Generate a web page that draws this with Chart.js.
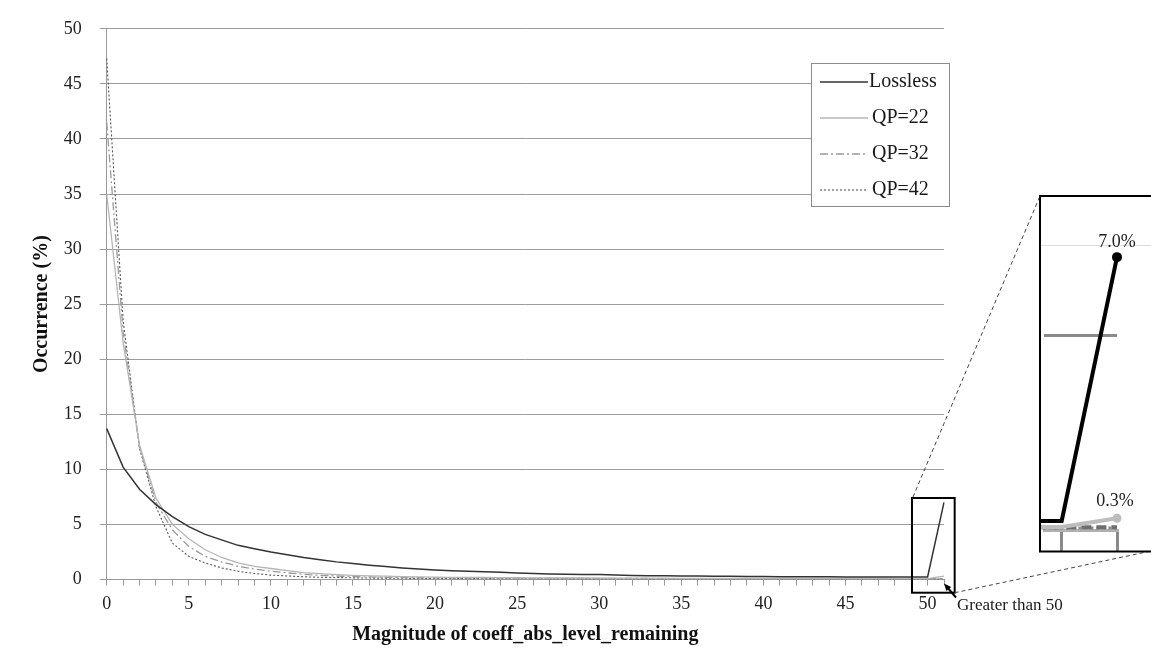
<!DOCTYPE html>
<html><head><meta charset="utf-8">
<script src="https://cdn.jsdelivr.net/npm/chart.js@4.4.1/dist/chart.umd.min.js"></script>
<style>
html,body{margin:0;padding:0;background:#fff;width:1151px;height:651px;overflow:hidden;position:relative}
#main{position:absolute;left:0;top:0}
#inset{position:absolute;left:1039px;top:195px}
</style></head><body>
<canvas id="main" width="1151" height="651"></canvas>
<canvas id="inset" width="112" height="358"></canvas>
<script>
// ---------- DATA ----------
const categories = ['0','1','2','3','4','5','6','7','8','9','10','11','12','13','14','15','16','17','18','19','20','21','22','23','24','25','26','27','28','29','30','31','32','33','34','35','36','37','38','39','40','41','42','43','44','45','46','47','48','49','50','Greater than 50'];
const lossless = [13.7,10.2,8.2,6.8,5.7,4.8,4.1,3.6,3.1,2.8, 2.5,2.25,2.0,1.8,1.6,1.45,1.3,1.17,1.05,0.95, 0.87,0.8,0.75,0.7,0.66,0.6,0.54,0.5,0.48,0.46, 0.45,0.41,0.37,0.35,0.33,0.32,0.31,0.3,0.29,0.28, 0.27,0.26,0.25,0.24,0.24,0.23,0.23,0.23,0.23,0.23, 0.23,7.0];
const qp22 = [35.0,21.5,12.2,7.4,5.0,3.7,2.7,2.0,1.5,1.2, 1.0,0.8,0.63,0.53,0.45,0.38,0.33,0.3,0.27,0.24, 0.21,0.2,0.19,0.18,0.17,0.16,0.15,0.15,0.14,0.14, 0.13,0.13,0.12,0.12,0.12,0.11,0.11,0.11,0.1,0.1, 0.1,0.1,0.1,0.09,0.09,0.09,0.09,0.09,0.08,0.08, 0.08,0.3];
const qp32 = [41.5,22.5,12.0,7.0,4.5,3.0,2.1,1.6,1.2,0.95, 0.75,0.6,0.47,0.38,0.32,0.27,0.23,0.2,0.18,0.16, 0.15,0.14,0.13,0.12,0.12,0.11,0.11,0.1,0.1,0.1, 0.09,0.09,0.09,0.09,0.08,0.08,0.08,0.08,0.08,0.08, 0.07,0.07,0.07,0.07,0.07,0.07,0.07,0.07,0.07,0.07, 0.07,0.07];
const qp42 = [47.3,23.5,11.9,6.6,3.3,2.1,1.5,1.05,0.75,0.55, 0.4,0.32,0.25,0.2,0.18,0.15,0.13,0.12,0.11,0.1, 0.09,0.09,0.08,0.08,0.07,0.07,0.07,0.06,0.06,0.06, 0.06,0.05,0.05,0.05,0.05,0.05,0.05,0.05,0.05,0.05, 0.05,0.05,0.05,0.05,0.05,0.05,0.05,0.05,0.05,0.05, 0.05,0.05];
const seriesNames = ['Lossless','QP=22','QP=32','QP=42'];
const yMin = 0, yMax = 50, yStep = 5;
const xLabelEvery = 5;
const xTitle = 'Magnitude of coeff_abs_level_remaining';
const yTitle = 'Occurrence (%)';

// ---------- STYLE / LAYOUT ----------
const FONT = 'Liberation Serif';
Chart.defaults.font.family = FONT;
Chart.defaults.color = '#222';
const styles = [
  {color:'#333333', width:1.5, dash:[]},
  {color:'#b5b5b5', width:1.3, dash:[]},
  {color:'#9a9a9a', width:1.3, dash:[8,3,2,3]},
  {color:'#555555', width:1.1, dash:[2,2]}
];
const zoomBox = {x0:49.05, x1:51.65, y0:-1.2, y1:7.4};
const insetPos = {left:1039, top:195, w:112, h:358};
const allSeries = [lossless, qp22, qp32, qp42];
const lastIdx = categories.length - 1;

const mainDecor = {
  id:'mainDecor',
  afterDraw(chart){
    const ctx = chart.ctx, xs = chart.scales.x, ys = chart.scales.y;
    ctx.save();
    // legend box
    const L = {x:811.5, y:63.5, w:138, h:143};
    ctx.fillStyle = '#fff'; ctx.fillRect(L.x, L.y, L.w, L.h);
    ctx.strokeStyle = '#8a8a8a'; ctx.lineWidth = 1; ctx.strokeRect(L.x, L.y, L.w, L.h);
    ctx.font = '20px "' + FONT + '"'; ctx.textBaseline = 'middle'; ctx.textAlign = 'left';
    chart.data.datasets.forEach((ds, i) => {
      const yy = 82 + i * 36;
      ctx.save();
      ctx.strokeStyle = ds.borderColor; ctx.lineWidth = ds.borderWidth; ctx.setLineDash(ds.borderDash || []);
      ctx.beginPath(); ctx.moveTo(820, yy); ctx.lineTo(868, yy); ctx.stroke();
      ctx.restore();
      ctx.fillStyle = '#1a1a1a'; ctx.fillText(ds.label, i === 0 ? 869 : 872, yy);
    });
    // zoom box
    const bx0 = xs.getPixelForValue(zoomBox.x0), bx1 = xs.getPixelForValue(zoomBox.x1);
    const by0 = ys.getPixelForValue(zoomBox.y0), by1 = ys.getPixelForValue(zoomBox.y1);
    ctx.strokeStyle = '#000'; ctx.lineWidth = 2;
    ctx.strokeRect(bx0, by1, bx1 - bx0, by0 - by1);
    // connectors
    ctx.save();
    ctx.strokeStyle = '#444'; ctx.lineWidth = 1; ctx.setLineDash([4,3]);
    ctx.beginPath(); ctx.moveTo(bx0 + 1, by1 - 1); ctx.lineTo(insetPos.left + 1, insetPos.top + 1); ctx.stroke();
    ctx.beginPath(); ctx.moveTo(bx1, by0); ctx.lineTo(insetPos.left + insetPos.w, insetPos.top + insetPos.h - 2); ctx.stroke();
    ctx.restore();
    // arrow + annotation
    const ax = xs.getPixelForValue(lastIdx), ay = ys.getPixelForValue(0);
    const hx = ax, hy = ay + 4, tx = ax + 12, ty = ay + 18;
    ctx.strokeStyle = '#000'; ctx.fillStyle = '#000'; ctx.lineWidth = 2;
    ctx.beginPath(); ctx.moveTo(tx, ty); ctx.lineTo(hx + 3, hy + 3.5); ctx.stroke();
    const ang = Math.atan2(hy - ty, hx - tx), s = 8;
    ctx.beginPath(); ctx.moveTo(hx, hy);
    ctx.lineTo(hx - s * Math.cos(ang - 0.4), hy - s * Math.sin(ang - 0.4));
    ctx.lineTo(hx - s * Math.cos(ang + 0.4), hy - s * Math.sin(ang + 0.4));
    ctx.closePath(); ctx.fill();
    ctx.font = '17px "' + FONT + '"'; ctx.fillStyle = '#1a1a1a'; ctx.textAlign = 'left'; ctx.textBaseline = 'middle';
    ctx.fillText(categories[lastIdx], ax + 13, ay + 26.5);
    ctx.restore();
  }
};

new Chart(document.getElementById('main'), {
  type:'line',
  data:{
    labels: categories,
    datasets: allSeries.map((arr, i) => ({
      label: seriesNames[i], data: arr,
      borderColor: styles[i].color, borderWidth: styles[i].width, borderDash: styles[i].dash,
      pointRadius: 0, tension: 0, fill: false
    }))
  },
  options:{
    responsive:false, animation:false, devicePixelRatio:1,
    layout:{padding:{left:0, right:207, top:21, bottom:0}},
    plugins:{legend:{display:false}, tooltip:{enabled:false}},
    scales:{
      x:{
        type:'category', offset:false,
        grid:{display:true, drawOnChartArea:false, drawTicks:true, tickLength:6, color:'#999', offset:false},
        border:{display:true, color:'#999', width:1},
        ticks:{autoSkip:false, maxRotation:0, minRotation:0, padding:8, font:{size:18}, color:'#222',
          callback:(v, i) => (i % xLabelEvery === 0 && i < lastIdx) ? categories[i] : ''},
        title:{display:true, text:xTitle, font:{size:20, weight:'bold'}, color:'#111', padding:{top:0, bottom:4}},
        afterFit:(s) => { s.height = 71.5; }
      },
      y:{
        min:yMin, max:yMax,
        grid:{color:'#9c9c9c', lineWidth:1, tickLength:7, drawTicks:true},
        border:{display:true, color:'#999', width:1},
        ticks:{stepSize:yStep, padding:18, font:{size:18}, color:'#222'},
        title:{display:true, text:yTitle, font:{size:20, weight:'bold'}, color:'#111', padding:{top:30, bottom:0}},
        afterFit:(s) => { s.width = 106.7; }
      }
    }
  },
  plugins:[mainDecor]
});

// ---------- INSET ----------
const insetGuide = 7.3;
const insetDecor = {
  id:'insetDecor',
  beforeDatasetsDraw(chart){
    const ctx = chart.ctx, ys = chart.scales.y;
    ctx.save(); ctx.strokeStyle = '#dcdcdc'; ctx.lineWidth = 1;
    const gy = Math.round(ys.getPixelForValue(insetGuide)) + 0.5;
    ctx.beginPath(); ctx.moveTo(0, gy); ctx.lineTo(chart.width, gy); ctx.stroke(); ctx.restore();
  },
  afterDraw(chart){
    const ctx = chart.ctx, xs = chart.scales.x, ys = chart.scales.y;
    ctx.save();
    ctx.font = '18px "' + FONT + '"'; ctx.fillStyle = '#222'; ctx.textAlign = 'center'; ctx.textBaseline = 'middle';
    const px = xs.getPixelForValue(lastIdx);
    ctx.fillText(lossless[lastIdx].toFixed(1) + '%', px, ys.getPixelForValue(lossless[lastIdx]) - 15);
    ctx.fillText(qp22[lastIdx].toFixed(1) + '%', px - 2, ys.getPixelForValue(qp22[lastIdx]) - 17);
    ctx.strokeStyle = '#000'; ctx.lineWidth = 2;
    ctx.beginPath(); ctx.moveTo(chart.width + 5, 1); ctx.lineTo(1, 1); ctx.lineTo(1, 356.5); ctx.lineTo(chart.width + 5, 356.5); ctx.stroke();
    ctx.restore();
  }
};
const insetStyles = [
  {color:'#000000', width:4, dash:[], r:5},
  {color:'#bdbdbd', width:4, dash:[], r:4.5},
  {color:'#6e6e6e', width:4, dash:[10,5], r:0},
  {color:'#8c8c8c', width:3, dash:[3,3], r:0}
];
new Chart(document.getElementById('inset'), {
  type:'line',
  data:{
    datasets: allSeries.map((arr, i) => ({
      label: seriesNames[i],
      data: arr.map((v, k) => ({x:k, y:v})),
      borderColor: insetStyles[i].color, backgroundColor: insetStyles[i].color,
      borderWidth: insetStyles[i].width, borderDash: insetStyles[i].dash,
      pointRadius: (c) => (c.dataIndex === lastIdx ? insetStyles[i].r : 0),
      pointBorderWidth: 0, tension: 0, clip: false
    }))
  },
  options:{
    responsive:false, animation:false, devicePixelRatio:1,
    layout:{padding:{left:0, right:34, top:0, bottom:0}},
    plugins:{legend:{display:false}, tooltip:{enabled:false}},
    scales:{
      x:{
        type:'linear', min:49.68, max:51,
        grid:{display:true, drawOnChartArea:false, drawTicks:true, tickLength:22, lineWidth:3, color:'#8a8a8a'},
        border:{display:true, color:'#b0b0b0', width:3},
        ticks:{display:false, stepSize:1, includeBounds:false},
        afterFit:(s) => { s.height = 23; }
      },
      y:{
        type:'linear', min:0, max:8.466,
        grid:{display:true, drawTicks:false, lineWidth:3, color:(c) => (c.tick && c.tick.value === 5 ? '#8a8a8a' : 'rgba(0,0,0,0)')},
        border:{display:false},
        ticks:{display:false, stepSize:5, includeBounds:false},
        afterFit:(s) => { s.width = 0; }
      }
    }
  },
  plugins:[insetDecor]
});
</script>
</body></html>
